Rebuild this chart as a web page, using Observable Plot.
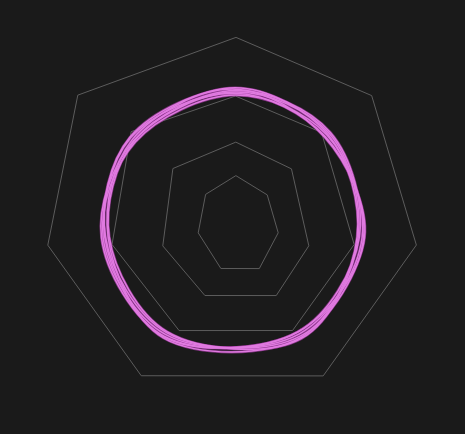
<!DOCTYPE html>
<html>
<head>
<meta charset="utf-8">
<script src="https://cdn.jsdelivr.net/npm/d3@7"></script>
<script src="https://cdn.jsdelivr.net/npm/@observablehq/plot@0.6"></script>
<style>
  html, body { margin: 0; padding: 0; background: #1a1a1a; }
  #chart { width: 465px; height: 434px; }
</style>
</head>
<body>
<div id="chart"></div>
<script>
// Grid rings (outermost first): angle of each vertex (degrees, clockwise from up) and its radial value
const ringAngles = [
  [1.2, 48.3, 97.9, 149.9, 210.3, 262.1, 308.7],
  [1.5, 45.6, 101.6, 151.6, 205.7, 258.3, 310.8],
  [2.7, 49.3, 109.0, 150.1, 200.0, 249.3, 310.3],
  [4.8, 54.6, 106.2, 151.4, 193.4, 248.8, 312.5]
];
const ringValues = [
  [98.4, 100.7, 100.3, 97.7, 97.8, 100.8, 107.2],
  [66.7, 67.3, 67.1, 68.2, 66.6, 66.5, 72.4],
  [41.8, 42.0, 43.6, 47.4, 43.7, 40.3, 42.3],
  [23.7, 23.0, 25.7, 30.2, 27.2, 19.9, 19.8]
];

// Axes of the series (degrees, clockwise from up)
const axisAngles = [1.2, 48.3, 97.9, 149.9, 210.3, 262.1, 308.7];

// Series values per axis
const seriesNames = ["S1", "S2", "S3", "S4", "S5", "S6"];
const s1 = [69.8, 70.8, 69.2, 70.3, 73.1, 71.5, 68.4];
const s2 = [68.3, 67.2, 71.5, 72.9, 70.8, 69.3, 70.6];
const s3 = [71.2, 69.1, 68.0, 73.7, 74.1, 67.9, 69.3];
const s4 = [67.3, 68.5, 70.7, 71.6, 71.9, 70.6, 67.2];
const s5 = [70.5, 66.8, 72.0, 70.2, 73.4, 69.7, 71.1];
const s6 = [68.9, 70.0, 68.6, 74.3, 70.2, 67.3, 68.0];
const seriesValues = [s1, s2, s3, s4, s5, s6];

const rad = d => d * Math.PI / 180;

const gridPts = ringValues.flatMap((vals, r) =>
  vals.map((v, i) => ({ring: r, x: v * Math.sin(rad(ringAngles[r][i])), y: v * Math.cos(rad(ringAngles[r][i]))}))
);
const seriesPts = seriesValues.flatMap((vals, s) =>
  vals.map((v, i) => ({series: seriesNames[s], x: v * Math.sin(rad(axisAngles[i])), y: v * Math.cos(rad(axisAngles[i]))}))
);

const chart = Plot.plot({
  width: 465,
  height: 434,
  margin: 0,
  style: { background: "#1a1a1a", color: "#ccc" },
  x: { domain: [-125.4, 125.9], axis: null },
  y: { domain: [-116.2, 118.4], axis: null },
  marks: [
    Plot.line(gridPts, { x: "x", y: "y", z: "ring", curve: "linear-closed", stroke: "#5c5c5c", strokeWidth: 1 }),
    Plot.line(seriesPts, { x: "x", y: "y", z: "series", curve: "catmull-rom-closed", stroke: "#a33fa3", strokeWidth: 2.8, strokeOpacity: 0.75 }),
    Plot.line(seriesPts, { x: "x", y: "y", z: "series", curve: "catmull-rom-closed", stroke: "#e07ae0", strokeWidth: 1.5 })
  ]
});
document.getElementById("chart").appendChild(chart);
</script>
</body>
</html>
